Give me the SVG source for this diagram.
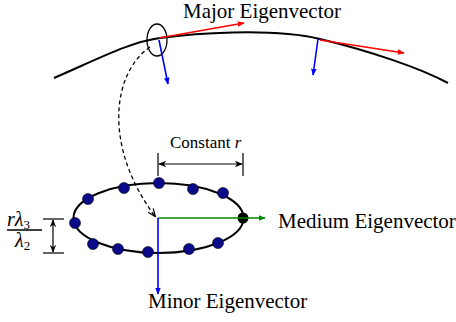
<svg xmlns="http://www.w3.org/2000/svg" width="456" height="322" viewBox="0 0 456 322">
<defs>
<marker id="ar" viewBox="0 0 10 10" refX="9" refY="5" markerWidth="7" markerHeight="7" markerUnits="userSpaceOnUse" orient="auto"><path d="M0,1 L10,5 L0,9 z" fill="#ff0000"/></marker>
<marker id="ab" viewBox="0 0 10 10" refX="9" refY="5" markerWidth="7" markerHeight="7" markerUnits="userSpaceOnUse" orient="auto"><path d="M0,1 L10,5 L0,9 z" fill="#0000ff"/></marker>
<marker id="ag" viewBox="0 0 10 10" refX="9" refY="5" markerWidth="7" markerHeight="7" markerUnits="userSpaceOnUse" orient="auto"><path d="M0,1 L10,5 L0,9 z" fill="#008800"/></marker>
<marker id="ak" viewBox="0 0 10 10" refX="9" refY="5" markerWidth="12" markerHeight="8" markerUnits="userSpaceOnUse" orient="auto-start-reverse"><path d="M0,1 L10,5 L0,9 L3,5 z" fill="#000"/></marker>
<marker id="ad" viewBox="0 0 10 10" refX="9" refY="5" markerWidth="9" markerHeight="8" markerUnits="userSpaceOnUse" orient="auto"><path d="M0,1 L10,5 L0,9" fill="none" stroke="#000" stroke-width="1.5"/></marker>
</defs>
<style>
.lbl{font-family:"Liberation Serif","Times New Roman",serif;font-size:21px;fill:#000}
.dot{fill:#0a0a8a;stroke:#000;stroke-width:0.6}
.ln{fill:none;stroke:#000;stroke-width:2}
.thin{fill:none;stroke:#000;stroke-width:1.3}
</style>
<rect width="456" height="322" fill="#fff"/>
<g id="surface">
<path class="ln" d="M54,78 C100,58 130,42 160,38 S270,27 320,39 S420,68 448,83"/>
<ellipse cx="157" cy="40" rx="10" ry="16" class="thin" stroke-width="1.6"/>
</g>
<g id="connectors">
<line x1="159" y1="38" x2="244" y2="23" stroke="#ff0000" stroke-width="1.6" marker-end="url(#ar)"/>
<line x1="159" y1="40" x2="168" y2="84" stroke="#0000ff" stroke-width="1.6" marker-end="url(#ab)"/>
<line x1="320" y1="40" x2="404" y2="53" stroke="#ff0000" stroke-width="1.6" marker-end="url(#ar)"/>
<line x1="318" y1="39" x2="313" y2="75" stroke="#0000ff" stroke-width="1.6" marker-end="url(#ab)"/>
<path d="M150,47 C110,75 105,150 155,216" fill="none" stroke="#000" stroke-width="1.3" stroke-dasharray="4,3" marker-end="url(#ad)"/>
</g>
<g id="ellipse">
<ellipse cx="158.5" cy="218" rx="85" ry="35" class="ln" stroke-width="1.8"/>
<circle class="dot" cx="75" cy="223" r="5.5"/>
<circle class="dot" cx="88" cy="199" r="5.5"/>
<circle class="dot" cx="124" cy="188" r="5.5"/>
<circle class="dot" cx="159" cy="183" r="5.5"/>
<circle class="dot" cx="193" cy="189" r="5.5"/>
<circle class="dot" cx="223" cy="193" r="5.5"/>
<circle cx="243" cy="218" r="5.5" fill="#000"/>
<circle class="dot" cx="218" cy="243" r="5.5"/>
<circle class="dot" cx="189" cy="249" r="5.5"/>
<circle class="dot" cx="148" cy="252" r="5.5"/>
<circle class="dot" cx="118" cy="249" r="5.5"/>
<circle class="dot" cx="93" cy="244" r="5.5"/>
</g>
<g id="axes">
<line x1="158" y1="218" x2="265" y2="218" stroke="#008800" stroke-width="1.6" marker-end="url(#ag)"/>
<line x1="158" y1="218" x2="158" y2="294" stroke="#0000ff" stroke-width="1.6" marker-end="url(#ab)"/>
</g>
<g id="labels">
<text class="lbl" x="183" y="18">Major Eigenvector</text>
<text class="lbl" x="278" y="228">Medium Eigenvector</text>
<text class="lbl" x="148" y="308">Minor Eigenvector</text>
<text class="lbl" x="170" y="148" style="font-size:17px">Constant <tspan font-style="italic">r</tspan></text>
</g>
<g id="dim-r">
<line x1="158" y1="153" x2="158" y2="176" stroke="#000" stroke-width="1.2"/>
<line x1="243" y1="153" x2="243" y2="176" stroke="#000" stroke-width="1.2"/>
<line x1="159" y1="164" x2="242" y2="164" stroke="#000" stroke-width="1.2" marker-start="url(#ak)" marker-end="url(#ak)"/>
</g>
<g id="dim-lambda">
<line x1="43" y1="219" x2="64" y2="219" stroke="#000" stroke-width="1.2"/>
<line x1="43" y1="253" x2="64" y2="253" stroke="#000" stroke-width="1.2"/>
<line x1="53" y1="220" x2="53" y2="252" stroke="#000" stroke-width="1.2" marker-start="url(#ak)" marker-end="url(#ak)"/>
<text class="lbl" x="7" y="226" style="font-size:20px;font-style:italic">rλ<tspan font-size="13" font-style="normal" dy="3">3</tspan></text>
<line x1="7" y1="230" x2="42" y2="230" stroke="#000" stroke-width="1.3"/>
<text class="lbl" x="15" y="247" style="font-size:20px;font-style:italic">λ<tspan font-size="13" font-style="normal" dy="3">2</tspan></text>
</g>
</svg>
